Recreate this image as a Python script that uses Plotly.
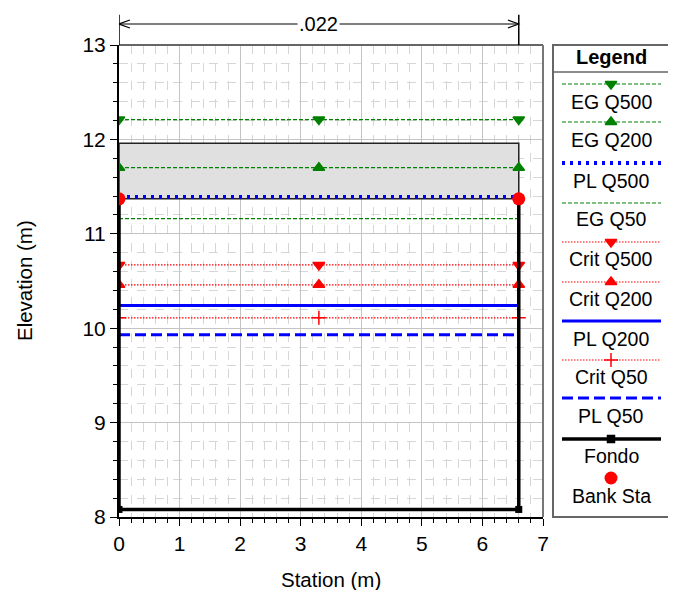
import plotly.graph_objects as go

# ---------------- data ----------------
stations = [0, 3.3, 6.6]
eg_q500 = [12.21, 12.21, 12.21]
eg_q200 = [11.70, 11.70, 11.70]
pl_q500 = [11.39, 11.39, 11.39]
eg_q50 = [11.16, 11.16, 11.16]
crit_q500 = [10.67, 10.67, 10.67]
crit_q200 = [10.46, 10.46, 10.46]
pl_q200 = [10.24, 10.24, 10.24]
crit_q50 = [10.11, 10.11, 10.11]
pl_q50 = [9.93, 9.93, 9.93]

ground_x = [0, 0, 6.6, 6.6]
ground_y = [11.37, 8.08, 8.08, 11.37]
bank_x = [0, 6.6]
bank_y = [11.37, 11.37]
deck_x = [0, 6.6]
deck_low = [11.37, 11.37]
deck_high = [11.96, 11.96]
n_value = ".022"
n_left, n_right = 0, 6.6

legend_names = ["EG Q500", "EG Q200", "PL Q500", "EG Q50", "Crit Q500",
                "Crit Q200", "PL Q200", "Crit Q50", "PL Q50", "Fondo", "Bank Sta"]

FONT = "Arial, Liberation Sans, sans-serif"
GREEN = "#008000"
RED = "#ff0000"
BLUE = "#0000ff"
EG_DASH = "4px,2px"
CRIT_DASH = "1.5px,1.5px"

styles = {
    "EG Q500": dict(color=GREEN, width=1.2, dash=EG_DASH, symbol="triangle-down", size=10),
    "EG Q200": dict(color=GREEN, width=1.2, dash=EG_DASH, symbol="triangle-up", size=10),
    "PL Q500": dict(color=BLUE, width=4, dash="3px,5px", symbol=None, size=0),
    "EG Q50": dict(color=GREEN, width=1.2, dash=EG_DASH, symbol=None, size=0),
    "Crit Q500": dict(color=RED, width=1.2, dash=CRIT_DASH, symbol="triangle-down", size=10),
    "Crit Q200": dict(color=RED, width=1.2, dash=CRIT_DASH, symbol="triangle-up", size=10),
    "PL Q200": dict(color=BLUE, width=3, dash="solid", symbol=None, size=0),
    "Crit Q50": dict(color=RED, width=1.2, dash=CRIT_DASH, symbol="cross-thin", size=10),
    "PL Q50": dict(color=BLUE, width=3, dash="11px,5px", symbol=None, size=0),
    "Fondo": dict(color="black", width=3.5, dash="solid", symbol="square", size=7),
}
series = {
    "EG Q500": eg_q500, "EG Q200": eg_q200, "PL Q500": pl_q500, "EG Q50": eg_q50,
    "Crit Q500": crit_q500, "Crit Q200": crit_q200, "PL Q200": pl_q200,
    "Crit Q50": crit_q50, "PL Q50": pl_q50,
}

fig = go.Figure()

# bridge deck
fig.add_trace(go.Scatter(
    x=[deck_x[0], deck_x[1], deck_x[1], deck_x[0], deck_x[0]],
    y=[deck_low[0], deck_low[1], deck_high[1], deck_high[0], deck_low[0]],
    mode="lines", fill="toself", fillcolor="#e0e0e0",
    line=dict(color="#222222", width=1.5), showlegend=False, hoverinfo="skip"))

draw_order = ["PL Q50", "Crit Q50", "PL Q200", "Crit Q200", "Crit Q500",
              "EG Q50", "PL Q500", "EG Q200", "EG Q500"]
for name in draw_order:
    s = styles[name]
    mode = "lines+markers" if s["symbol"] else "lines"
    mk = dict(symbol=s["symbol"], size=s["size"], color=s["color"],
              line=dict(color=s["color"], width=1.5)) if s["symbol"] else None
    fig.add_trace(go.Scatter(x=stations, y=series[name], mode=mode, name=name,
                             line=dict(color=s["color"], width=s["width"], dash=s["dash"]),
                             marker=mk, showlegend=False))

s = styles["Fondo"]
fig.add_trace(go.Scatter(x=ground_x, y=ground_y, mode="lines+markers", name="Fondo",
                         line=dict(color="black", width=s["width"]),
                         marker=dict(symbol="square", size=7, color="black"),
                         showlegend=False))
fig.add_trace(go.Scatter(x=bank_x, y=bank_y, mode="markers", name="Bank Sta",
                         marker=dict(symbol="circle", size=13, color=RED),
                         showlegend=False))

# ---------------- custom legend (screen-pixel-like coords on x2/y2) ----------------
leg_line_y = [84, 122, 163, 203, 242, 282, 321, 360, 398, 439, 478]
leg_text_y = [102, 140, 181, 219, 259, 299, 339, 377, 416, 456, 496]
lx0, lx1, lxm = 562, 661, 611

for i, name in enumerate(legend_names):
    if name == "Bank Sta":
        fig.add_trace(go.Scatter(x=[lxm], y=[leg_line_y[i]], mode="markers",
                                 marker=dict(symbol="circle", size=13, color=RED),
                                 xaxis="x2", yaxis="y2", showlegend=False, hoverinfo="skip"))
    else:
        st = styles[name]
        fig.add_trace(go.Scatter(x=[lx0, lx1], y=[leg_line_y[i]] * 2, mode="lines",
                                 line=dict(color=st["color"], width=st["width"], dash=st["dash"]),
                                 xaxis="x2", yaxis="y2", showlegend=False, hoverinfo="skip"))
        if st["symbol"]:
            fig.add_trace(go.Scatter(x=[lxm], y=[leg_line_y[i]], mode="markers",
                                     marker=dict(symbol=st["symbol"], size=st["size"], color=st["color"],
                                                 line=dict(color=st["color"], width=1.5)),
                                     xaxis="x2", yaxis="y2", showlegend=False, hoverinfo="skip"))
    fig.add_annotation(x=lxm, y=leg_text_y[i], xref="x2", yref="y2", text=name,
                       showarrow=False, font=dict(family=FONT, size=19.5, color="black"),
                       xanchor="center", yanchor="middle")

fig.add_annotation(x=lxm, y=57, xref="x2", yref="y2", text="<b>Legend</b>",
                   showarrow=False, font=dict(family=FONT, size=20, color="black"),
                   xanchor="center", yanchor="middle")

# page body has an 8px margin: figure coords = screen coords - 8;
# total page height kept at 598 so no scrollbar appears
W, H = 668, 582
ml, mr, mt, mb = 111, 6, 37, 73
pw = W - ml - mr
main_right = (535 - ml) / pw
leg_left = (545 - ml) / pw
leg_right = (661 - ml) / pw

shapes = []
# legend box (drawn above, no fill, so the legend subplot background can't hide it)
shapes.append(dict(type="rect", xref="paper", yref="paper", x0=leg_left, x1=leg_right, y0=0, y1=1,
                   line=dict(color="#666666", width=2), fillcolor="rgba(0,0,0,0)", layer="above"))
shapes.append(dict(type="line", xref="paper", yref="y2", x0=leg_left, x1=leg_right, y0=72, y1=72,
                   line=dict(color="#666666", width=1.5)))
# top/right plot border
shapes.append(dict(type="line", xref="x domain", yref="y domain", x0=0, x1=1, y0=1, y1=1,
                   line=dict(color="#666666", width=2)))
shapes.append(dict(type="line", xref="x domain", yref="y domain", x0=1, x1=1, y0=0, y1=1,
                   line=dict(color="#777777", width=2)))

# Manning's n annotation above plot
ya = 1.0445
shapes.append(dict(type="line", xref="x", yref="paper", x0=n_left, x1=n_left, y0=1, y1=1.064,
                   line=dict(color="black", width=1.5)))
shapes.append(dict(type="line", xref="x", yref="paper", x0=n_right, x1=n_right, y0=1, y1=1.064,
                   line=dict(color="black", width=1.5)))
shapes.append(dict(type="line", xref="x", yref="paper", x0=n_left, x1=n_right, y0=ya, y1=ya,
                   line=dict(color="black", width=1.2)))
hx, hy = 0.18, 0.0085
shapes.append(dict(type="path", xref="x", yref="paper",
                   path=f"M {n_left + hx},{ya + hy} L {n_left},{ya} L {n_left + hx},{ya - hy}",
                   line=dict(color="black", width=1.2)))
shapes.append(dict(type="path", xref="x", yref="paper",
                   path=f"M {n_right - hx},{ya + hy} L {n_right},{ya} L {n_right - hx},{ya - hy}",
                   line=dict(color="black", width=1.2)))
fig.add_annotation(x=(n_left + n_right) / 2, y=ya, xref="x", yref="paper", text=n_value,
                   showarrow=False, bgcolor="white", font=dict(family=FONT, size=20, color="black"),
                   xanchor="center", yanchor="middle")

# axis titles
fig.add_annotation(x=0.5, y=-0.1325, xref="x domain", yref="y domain", text="Station (m)",
                   showarrow=False, font=dict(family=FONT, size=20.5, color="black"),
                   xanchor="center", yanchor="middle")
fig.add_annotation(x=-0.224, y=0.5, xref="x domain", yref="y domain", text="Elevation (m)",
                   textangle=-90, showarrow=False, font=dict(family=FONT, size=20.5, color="black"),
                   xanchor="center", yanchor="middle")

axis_common = dict(
    showline=True, linecolor="black", linewidth=2,
    ticks="outside", ticklen=7, tickwidth=1, tickcolor="black",
    showgrid=True, gridcolor="#c4c4c4", gridwidth=1,
    zeroline=False, automargin=False,
    tickfont=dict(family=FONT, size=21, color="black"),
    minor=dict(dtick=0.2, ticks="outside", ticklen=4, tickcolor="black",
               showgrid=True, gridcolor="#d6d6d6", griddash="dash", gridwidth=1),
)

fig.update_layout(
    width=W, height=H,
    margin=dict(l=ml, r=mr, t=mt, b=mb, autoexpand=False),
    paper_bgcolor="white", plot_bgcolor="white",
    showlegend=False,
    shapes=shapes,
    xaxis=dict(domain=[0, main_right], range=[0, 7], dtick=1, tick0=0, **axis_common),
    yaxis=dict(domain=[0, 1], range=[8, 13], dtick=1, tick0=8, **axis_common),
    xaxis2=dict(domain=[leg_left, 1], range=[553, 670], visible=False, showgrid=False,
                anchor="y2", automargin=False),
    yaxis2=dict(domain=[0, 1], range=[517, 45], visible=False, showgrid=False,
                anchor="x2", automargin=False),
)

fig.write_html("out.html")
